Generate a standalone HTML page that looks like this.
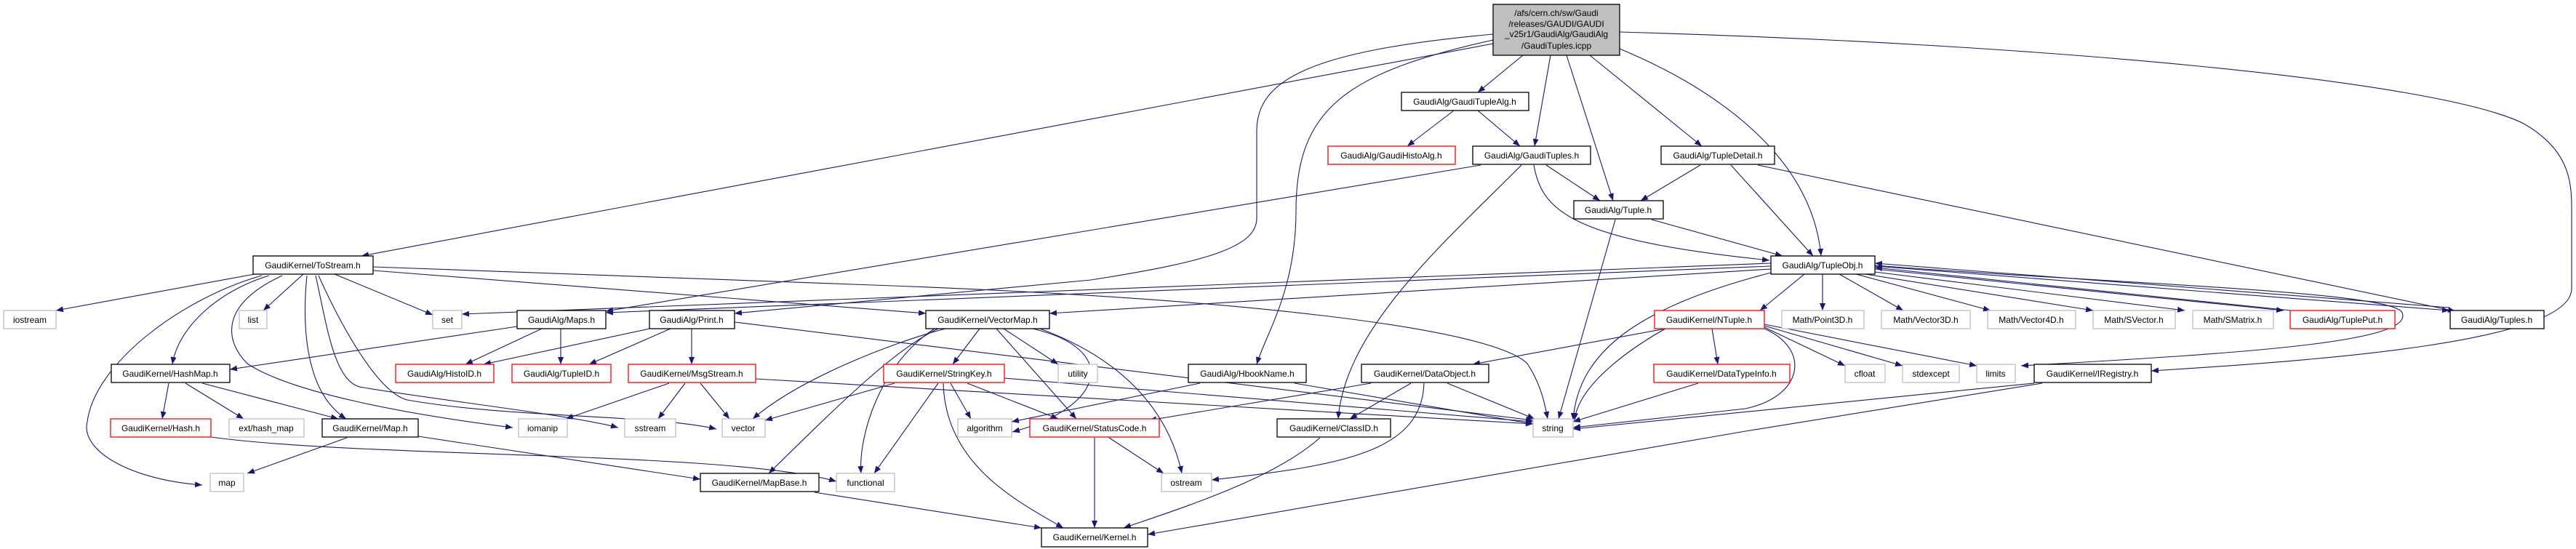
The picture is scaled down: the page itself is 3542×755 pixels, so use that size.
<!DOCTYPE html>
<html><head><meta charset="utf-8"><style>
html,body{margin:0;padding:0;background:#fff;width:3542px;height:755px;overflow:hidden}
svg{display:block}
text{font-family:"Liberation Sans",sans-serif;font-size:12px;fill:#000}
.e{fill:none;stroke:#191970;stroke-width:1.1;marker-end:url(#a)}
.b{fill:#fff;stroke:#000;stroke-width:1.3}
.g{fill:#fff;stroke:#bfbfbf;stroke-width:1.3}
.r{fill:#fff;stroke:#ff0000;stroke-width:1.3}
</style></head><body>
<svg width="3542" height="755" viewBox="0 0 3542 755" xmlns="http://www.w3.org/2000/svg">
<defs><marker id="a" markerWidth="10" markerHeight="8" refX="10" refY="4" orient="auto" markerUnits="userSpaceOnUse"><path d="M0,0 L10,4 L0,8 z" fill="#191970"/></marker></defs>
<g>
<path class="e" d="M2053,60 L497,352"/>
<path class="e" d="M2094,76 L2032,127"/>
<path class="e" d="M2132,76 L2110,201"/>
<path class="e" d="M2154,76 L2218,276"/>
<path class="e" d="M2186,76 L2340,201"/>
<path class="e" d="M2227,67 C2330,110 2490,200 2504,352"/>
<path class="e" d="M2227,44 C2800,60 3350,110 3470,170 C3540,210 3536,260 3536,300 L3536,397 C3536,470 3200,495 2958,510"/>
<path class="e" d="M2053,47 C1800,70 1728,110 1728,180 L1728,300 C1728,340 1660,360 1500,385 L1010,431"/>
<path class="e" d="M2053,55 C1850,100 1782,150 1782,290 C1782,400 1740,460 1728,501"/>
<path class="e" d="M1999,152 L1935,201"/>
<path class="e" d="M2032,152 L2090,201"/>
<path class="e" d="M2036,227 L833,428"/>
<path class="e" d="M2092,227 C1990,330 1850,450 1840,576"/>
<path class="e" d="M2126,227 L2200,276"/>
<path class="e" d="M2109,227 C2120,290 2160,330 2433,358"/>
<path class="e" d="M2338,227 L2256,276"/>
<path class="e" d="M2380,227 L2493,352"/>
<path class="e" d="M2417,227 L3376,428"/>
<path class="e" d="M2221,302 L2143,576"/>
<path class="e" d="M2271,302 L2451,352"/>
<path class="e" d="M2506,377 L2506,427"/>
<path class="e" d="M2529,377 L2617,427"/>
<path class="e" d="M2552,377 L2737,427"/>
<path class="e" d="M2565,377 L2878,427"/>
<path class="e" d="M2578,374 L3004,427"/>
<path class="e" d="M2578,370 L3140,427"/>
<path class="e" d="M2578,366 L3368,427"/>
<path class="e" d="M3150,427 L2578,368"/>
<path class="e" d="M3368,423 L2578,362"/>
<path class="e" d="M2578,365 C2900,390 3290,400 3303,430 C3320,470 3100,485 2779,503"/>
<path class="e" d="M2481,377 L2420,427"/>
<path class="e" d="M2435,375 C2260,420 2170,480 2163,578"/>
<path class="e" d="M2435,370 L1443,431"/>
<path class="e" d="M2435,362 L635,432"/>
<path class="e" d="M2435,366 L833,430"/>
<path class="e" d="M2290,452 L2025,501"/>
<path class="e" d="M2354,452 L2362,501"/>
<path class="e" d="M2290,452 C2240,480 2170,530 2165,578"/>
<path class="e" d="M2426,450 L2537,503"/>
<path class="e" d="M2426,448 L2616,503"/>
<path class="e" d="M2426,446 L2718,503"/>
<path class="e" d="M2426,452 C2490,480 2480,545 2400,562 L2163,588"/>
<path class="e" d="M2808,527 L2400,593 L1578,735"/>
<path class="e" d="M2797,527 L2163,590"/>
<path class="e" d="M2335,527 L2163,580"/>
<path class="e" d="M1990,527 L2110,576"/>
<path class="e" d="M1940,527 L1856,576"/>
<path class="e" d="M1885,527 L1580,578"/>
<path class="e" d="M1958,527 C1955,620 1850,640 1666,660"/>
<path class="e" d="M1650,527 L1391,580"/>
<path class="e" d="M1780,527 L2108,583"/>
<path class="e" d="M1815,602 C1750,660 1620,700 1545,726"/>
<path class="e" d="M1505,602 L1505,726"/>
<path class="e" d="M1525,602 L1600,651"/>
<path class="e" d="M1347,452 L1310,501"/>
<path class="e" d="M1380,452 L1455,501"/>
<path class="e" d="M1370,452 L1480,576"/>
<path class="e" d="M1420,452 C1540,480 1520,560 1392,594"/>
<path class="e" d="M1430,452 C1560,500 1610,580 1625,651"/>
<path class="e" d="M1300,452 C1230,470 1100,520 1035,576"/>
<path class="e" d="M1290,452 C1230,480 1150,560 1057,651"/>
<path class="e" d="M1285,452 C1210,500 1180,600 1184,651"/>
<path class="e" d="M1307,527 L1335,576"/>
<path class="e" d="M1330,527 L1455,576"/>
<path class="e" d="M1381,520 L2108,580"/>
<path class="e" d="M1290,527 L1202,651"/>
<path class="e" d="M1297,527 C1300,640 1400,690 1462,726"/>
<path class="e" d="M1230,527 L1052,578"/>
<path class="e" d="M920,527 L778,576"/>
<path class="e" d="M942,527 L905,576"/>
<path class="e" d="M963,527 L1003,576"/>
<path class="e" d="M1039,521 L2108,583"/>
<path class="e" d="M893,452 L665,501"/>
<path class="e" d="M922,452 L810,501"/>
<path class="e" d="M951,452 L951,501"/>
<path class="e" d="M1010,443 L2108,578"/>
<path class="e" d="M711,449 L316,508"/>
<path class="e" d="M745,452 L640,501"/>
<path class="e" d="M771,452 L771,501"/>
<path class="e" d="M232,527 L223,576"/>
<path class="e" d="M255,527 L335,576"/>
<path class="e" d="M278,527 L465,576"/>
<path class="e" d="M290,601 C500,630 1000,620 1150,662"/>
<path class="e" d="M477,602 L340,651"/>
<path class="e" d="M575,600 L963,659"/>
<path class="e" d="M1120,677 L1432,726"/>
<path class="e" d="M350,377 L77,427"/>
<path class="e" d="M417,377 L362,427"/>
<path class="e" d="M460,377 L595,433"/>
<path class="e" d="M370,379 C300,400 245,450 237,501"/>
<path class="e" d="M360,379 C250,410 130,500 120,580 C110,620 180,660 278,667"/>
<path class="e" d="M388,379 C300,420 310,470 340,500 C400,540 560,570 705,588"/>
<path class="e" d="M422,379 C415,450 420,540 476,576"/>
<path class="e" d="M434,379 C450,450 460,530 500,533 C600,550 780,570 850,588"/>
<path class="e" d="M438,379 C470,450 520,540 560,550 C700,575 900,570 985,590"/>
<path class="e" d="M513,367 L1200,392 C1700,410 2050,450 2100,500 C2120,530 2125,560 2128,576"/>
<path class="e" d="M513,372 L1273,431"/>
</g>
<g>
<rect x="2053" y="6" width="174" height="70" fill="#bfbfbf" stroke="#000" stroke-width="1.3"/>
<text x="2140" y="22" text-anchor="middle">/afs/cern.ch/sw/Gaudi</text>
<text x="2140" y="37" text-anchor="middle">/releases/GAUDI/GAUDI</text>
<text x="2140" y="51" text-anchor="middle">_v25r1/GaudiAlg/GaudiAlg</text>
<text x="2140" y="67" text-anchor="middle">/GaudiTuples.icpp</text>
</g>
<g>
<rect class="b" x="1927" y="127" width="175" height="25"/><text x="2014" y="144" text-anchor="middle">GaudiAlg/GaudiTupleAlg.h</text>
<rect class="r" x="1826" y="201" width="175" height="25"/><text x="1913" y="218" text-anchor="middle">GaudiAlg/GaudiHistoAlg.h</text>
<rect class="b" x="2025" y="201" width="162" height="25"/><text x="2106" y="218" text-anchor="middle">GaudiAlg/GaudiTuples.h</text>
<rect class="b" x="2284" y="201" width="156" height="25"/><text x="2362" y="218" text-anchor="middle">GaudiAlg/TupleDetail.h</text>
<rect class="b" x="2164" y="276" width="123" height="25"/><text x="2225" y="293" text-anchor="middle">GaudiAlg/Tuple.h</text>
<rect class="b" x="348" y="352" width="165" height="25"/><text x="430" y="369" text-anchor="middle">GaudiKernel/ToStream.h</text>
<rect class="b" x="2435" y="352" width="143" height="25"/><text x="2506" y="369" text-anchor="middle">GaudiAlg/TupleObj.h</text>
<rect class="g" x="5" y="427" width="72" height="25"/><text x="41" y="444" text-anchor="middle">iostream</text>
<rect class="g" x="329" y="427" width="38" height="25"/><text x="348" y="444" text-anchor="middle">list</text>
<rect class="g" x="595" y="427" width="40" height="25"/><text x="615" y="444" text-anchor="middle">set</text>
<rect class="b" x="711" y="427" width="122" height="25"/><text x="772" y="444" text-anchor="middle">GaudiAlg/Maps.h</text>
<rect class="b" x="893" y="427" width="117" height="25"/><text x="951" y="444" text-anchor="middle">GaudiAlg/Print.h</text>
<rect class="b" x="1273" y="427" width="170" height="25"/><text x="1358" y="444" text-anchor="middle">GaudiKernel/VectorMap.h</text>
<rect class="r" x="2275" y="427" width="151" height="25"/><text x="2350" y="444" text-anchor="middle">GaudiKernel/NTuple.h</text>
<rect class="g" x="2450" y="427" width="113" height="25"/><text x="2506" y="444" text-anchor="middle">Math/Point3D.h</text>
<rect class="g" x="2587" y="427" width="122" height="25"/><text x="2648" y="444" text-anchor="middle">Math/Vector3D.h</text>
<rect class="g" x="2733" y="427" width="121" height="25"/><text x="2793" y="444" text-anchor="middle">Math/Vector4D.h</text>
<rect class="g" x="2878" y="427" width="113" height="25"/><text x="2934" y="444" text-anchor="middle">Math/SVector.h</text>
<rect class="g" x="3015" y="427" width="111" height="25"/><text x="3070" y="444" text-anchor="middle">Math/SMatrix.h</text>
<rect class="r" x="3149" y="427" width="144" height="25"/><text x="3221" y="444" text-anchor="middle">GaudiAlg/TuplePut.h</text>
<rect class="b" x="3369" y="427" width="129" height="25"/><text x="3433" y="444" text-anchor="middle">GaudiAlg/Tuples.h</text>
<rect class="b" x="153" y="501" width="163" height="25"/><text x="234" y="518" text-anchor="middle">GaudiKernel/HashMap.h</text>
<rect class="r" x="544" y="501" width="135" height="25"/><text x="611" y="518" text-anchor="middle">GaudiAlg/HistoID.h</text>
<rect class="r" x="704" y="501" width="136" height="25"/><text x="772" y="518" text-anchor="middle">GaudiAlg/TupleID.h</text>
<rect class="r" x="864" y="501" width="175" height="25"/><text x="951" y="518" text-anchor="middle">GaudiKernel/MsgStream.h</text>
<rect class="r" x="1215" y="501" width="166" height="25"/><text x="1298" y="518" text-anchor="middle">GaudiKernel/StringKey.h</text>
<rect class="g" x="1455" y="501" width="54" height="25"/><text x="1482" y="518" text-anchor="middle">utility</text>
<rect class="b" x="1634" y="501" width="162" height="25"/><text x="1715" y="518" text-anchor="middle">GaudiAlg/HbookName.h</text>
<rect class="b" x="1872" y="501" width="175" height="25"/><text x="1959" y="518" text-anchor="middle">GaudiKernel/DataObject.h</text>
<rect class="r" x="2274" y="501" width="187" height="25"/><text x="2367" y="518" text-anchor="middle">GaudiKernel/DataTypeInfo.h</text>
<rect class="g" x="2537" y="501" width="55" height="25"/><text x="2564" y="518" text-anchor="middle">cfloat</text>
<rect class="g" x="2616" y="501" width="78" height="25"/><text x="2655" y="518" text-anchor="middle">stdexcept</text>
<rect class="g" x="2718" y="501" width="53" height="25"/><text x="2744" y="518" text-anchor="middle">limits</text>
<rect class="b" x="2797" y="501" width="161" height="25"/><text x="2877" y="518" text-anchor="middle">GaudiKernel/IRegistry.h</text>
<rect class="r" x="152" y="576" width="138" height="25"/><text x="221" y="593" text-anchor="middle">GaudiKernel/Hash.h</text>
<rect class="g" x="315" y="576" width="103" height="25"/><text x="366" y="593" text-anchor="middle">ext/hash_map</text>
<rect class="b" x="443" y="576" width="132" height="25"/><text x="509" y="593" text-anchor="middle">GaudiKernel/Map.h</text>
<rect class="g" x="713" y="576" width="67" height="25"/><text x="746" y="593" text-anchor="middle">iomanip</text>
<rect class="g" x="859" y="576" width="70" height="25"/><text x="894" y="593" text-anchor="middle">sstream</text>
<rect class="g" x="993" y="576" width="59" height="25"/><text x="1022" y="593" text-anchor="middle">vector</text>
<rect class="g" x="1317" y="576" width="74" height="25"/><text x="1354" y="593" text-anchor="middle">algorithm</text>
<rect class="r" x="1416" y="576" width="178" height="25"/><text x="1505" y="593" text-anchor="middle">GaudiKernel/StatusCode.h</text>
<rect class="b" x="1756" y="576" width="156" height="25"/><text x="1834" y="593" text-anchor="middle">GaudiKernel/ClassID.h</text>
<rect class="g" x="2108" y="576" width="55" height="25"/><text x="2135" y="593" text-anchor="middle">string</text>
<rect class="g" x="289" y="651" width="46" height="25"/><text x="312" y="668" text-anchor="middle">map</text>
<rect class="b" x="963" y="651" width="163" height="25"/><text x="1044" y="668" text-anchor="middle">GaudiKernel/MapBase.h</text>
<rect class="g" x="1150" y="651" width="80" height="25"/><text x="1190" y="668" text-anchor="middle">functional</text>
<rect class="g" x="1597" y="651" width="69" height="25"/><text x="1631" y="668" text-anchor="middle">ostream</text>
<rect class="b" x="1432" y="726" width="146" height="26"/><text x="1505" y="743" text-anchor="middle">GaudiKernel/Kernel.h</text>
</g>
</svg>
</body></html>
